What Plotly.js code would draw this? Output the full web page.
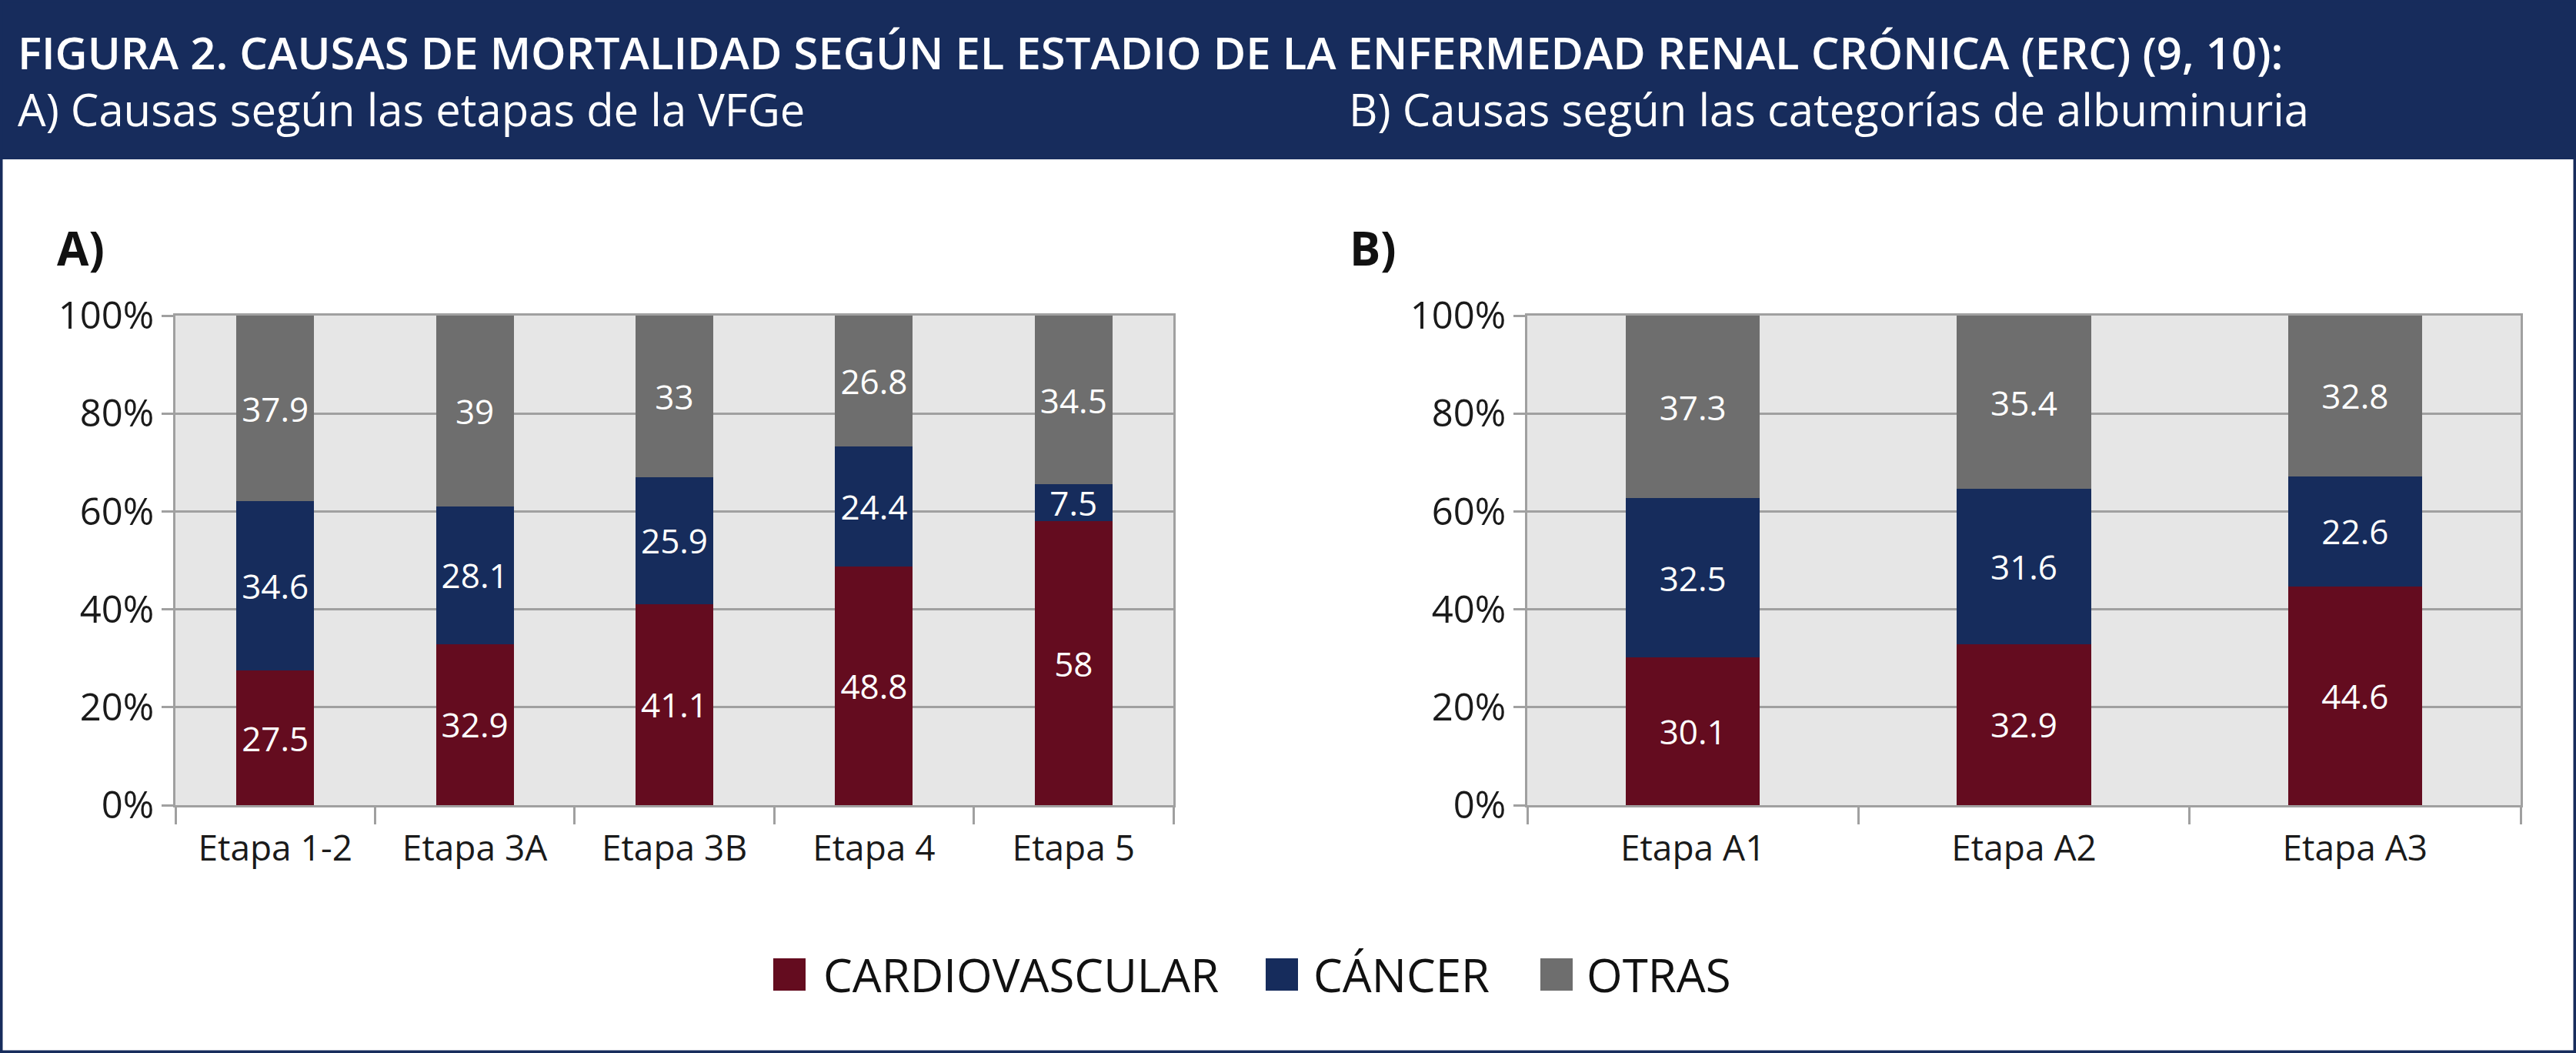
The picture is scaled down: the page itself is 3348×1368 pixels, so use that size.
<!DOCTYPE html>
<html>
<head>
<meta charset="utf-8">
<script src="https://cdn.plot.ly/plotly-3.0.1.min.js"></script>
<style>html,body{margin:0;padding:0;background:#fff;}#chart{width:3348px;height:1368px;}</style>
</head>
<body>
<div id="chart"></div>
<script>
// ---- data ----
const seriesNames = ['CARDIOVASCULAR', 'CÁNCER', 'OTRAS'];
const seriesColors = ['#640c1f', '#162c5c', '#6e6e6e'];

const categoriesA = ['Etapa 1-2', 'Etapa 3A', 'Etapa 3B', 'Etapa 4', 'Etapa 5'];
const cardioA = [27.5, 32.9, 41.1, 48.8, 58];
const cancerA = [34.6, 28.1, 25.9, 24.4, 7.5];
const otrasA  = [37.9, 39, 33, 26.8, 34.5];

const categoriesB = ['Etapa A1', 'Etapa A2', 'Etapa A3'];
const cardioB = [30.1, 32.9, 44.6];
const cancerB = [32.5, 31.6, 22.6];
const otrasB  = [37.3, 35.4, 32.8];

const yTickVals = [0, 20, 40, 60, 80, 100];
const yTickText = ['0%', '20%', '40%', '60%', '80%', '100%'];

const titleText = 'FIGURA 2. CAUSAS DE MORTALIDAD SEGÚN EL ESTADIO DE LA ENFERMEDAD RENAL CRÓNICA (ERC) (9, 10):';
const subtitleA = 'A) Causas según las etapas de la VFGe';
const subtitleB = 'B) Causas según las categorías de albuminuria';
const panelA = 'A)';
const panelB = 'B)';

// ---- helpers ----
const W = 3348, H = 1368;
const px = v => v / W;
const py = v => 1 - v / H;
const FONT = 'Open Sans, Noto Sans, sans-serif';
const NAVY = '#172c5c';

function makeTrace(cats, vals, i, xa, ya, w) {
  return {
    type: 'bar', x: cats, y: vals, name: seriesNames[i],
    xaxis: xa, yaxis: ya, width: w,
    marker: {color: seriesColors[i], line: {width: 0}},
    text: vals.map(v => String(v)),
    textposition: 'inside', insidetextanchor: 'middle', textangle: 0,
    textfont: {family: FONT, size: 44, color: '#ffffff'},
    hoverinfo: 'skip', showlegend: false
  };
}

const seriesA = [cardioA, cancerA, otrasA];
const seriesB = [cardioB, cancerB, otrasB];
const data = [];
seriesA.forEach((s, i) => data.push(makeTrace(categoriesA, s, i, 'x', 'y', 0.39)));
seriesB.forEach((s, i) => data.push(makeTrace(categoriesB, s, i, 'x2', 'y2', 0.405)));

const GRID = '#a0a0a0';
function xAxis(domain, anchor) {
  return {
    domain: domain, anchor: anchor, type: 'category',
    showline: true, linecolor: GRID, linewidth: 3, mirror: true,
    ticks: 'outside', tickson: 'boundaries', ticklen: 22, tickwidth: 3, tickcolor: GRID,
    ticklabelstandoff: 14,
    showgrid: false, zeroline: false,
    tickfont: {family: FONT, size: 46, color: '#1a1a1a'}, fixedrange: true
  };
}
function yAxis(domain, anchor) {
  return {
    domain: domain, anchor: anchor, range: [0, 100],
    tickmode: 'array', tickvals: yTickVals, ticktext: yTickText,
    showline: true, linecolor: GRID, linewidth: 3, mirror: true,
    ticks: 'outside', ticklen: 15, tickwidth: 3, tickcolor: GRID,
    showgrid: true, gridcolor: GRID, gridwidth: 3, zeroline: false,
    tickfont: {family: FONT, size: 49, color: '#1a1a1a'}, fixedrange: true
  };
}

const yDom = [py(1046), py(410)];

const shapes = [
  {type: 'rect', xref: 'paper', yref: 'paper', x0: 0, x1: 1, y0: py(207), y1: 1,
   fillcolor: NAVY, line: {width: 0}, layer: 'below'},
  {type: 'rect', xref: 'paper', yref: 'paper', x0: 0, x1: 1, y0: 0, y1: 1,
   fillcolor: 'rgba(0,0,0,0)', line: {color: NAVY, width: 7}}
];

const annotations = [
  {text: titleText, x: px(21), y: py(68), xanchor: 'left', yanchor: 'middle',
   font: {family: FONT, size: 58, color: '#ffffff', weight: 600}},
  {text: subtitleA, x: px(21), y: py(141), xanchor: 'left', yanchor: 'middle',
   font: {family: FONT, size: 58, color: '#ffffff'}},
  {text: subtitleB, x: px(1751), y: py(141), xanchor: 'left', yanchor: 'middle',
   font: {family: FONT, size: 58, color: '#ffffff'}},
  {text: panelA, x: px(72), y: py(322), xanchor: 'left', yanchor: 'middle',
   font: {family: FONT, size: 60, color: '#111111', weight: 700}},
  {text: panelB, x: px(1752), y: py(322), xanchor: 'left', yanchor: 'middle',
   font: {family: FONT, size: 60, color: '#111111', weight: 700}}
];
annotations.forEach(a => { a.xref = 'paper'; a.yref = 'paper'; a.showarrow = false; });

// manual legend (large square swatches)
const legendSwatchX = [1005, 1645, 2002];
const legendTextX = [1068, 1705, 2060];
seriesNames.forEach((n, i) => {
  shapes.push({type: 'rect', xref: 'paper', yref: 'paper',
    x0: px(legendSwatchX[i]), x1: px(legendSwatchX[i] + 42), y0: py(1287), y1: py(1245),
    fillcolor: seriesColors[i], line: {width: 0}});
  annotations.push({text: n, xref: 'paper', yref: 'paper', x: px(legendTextX[i]), y: py(1266),
    xanchor: 'left', yanchor: 'middle', showarrow: false,
    font: {family: FONT, size: 60, color: '#111111'}});
});

const layout = {
  width: W, height: H, margin: {l: 0, r: 0, t: 0, b: 0},
  paper_bgcolor: '#ffffff', plot_bgcolor: '#e6e6e6',
  barmode: 'stack', barnorm: 'percent', showlegend: false,
  font: {family: FONT, color: '#1a1a1a'},
  uniformtext: {mode: 'show', minsize: 44},
  xaxis: xAxis([px(228), px(1525)], 'y'),
  yaxis: yAxis(yDom, 'x'),
  xaxis2: xAxis([px(1985), px(3276)], 'y2'),
  yaxis2: yAxis(yDom, 'x2'),
  shapes: shapes, annotations: annotations
};

Plotly.newPlot('chart', data, layout, {displayModeBar: false, staticPlot: true});
</script>
</body>
</html>
